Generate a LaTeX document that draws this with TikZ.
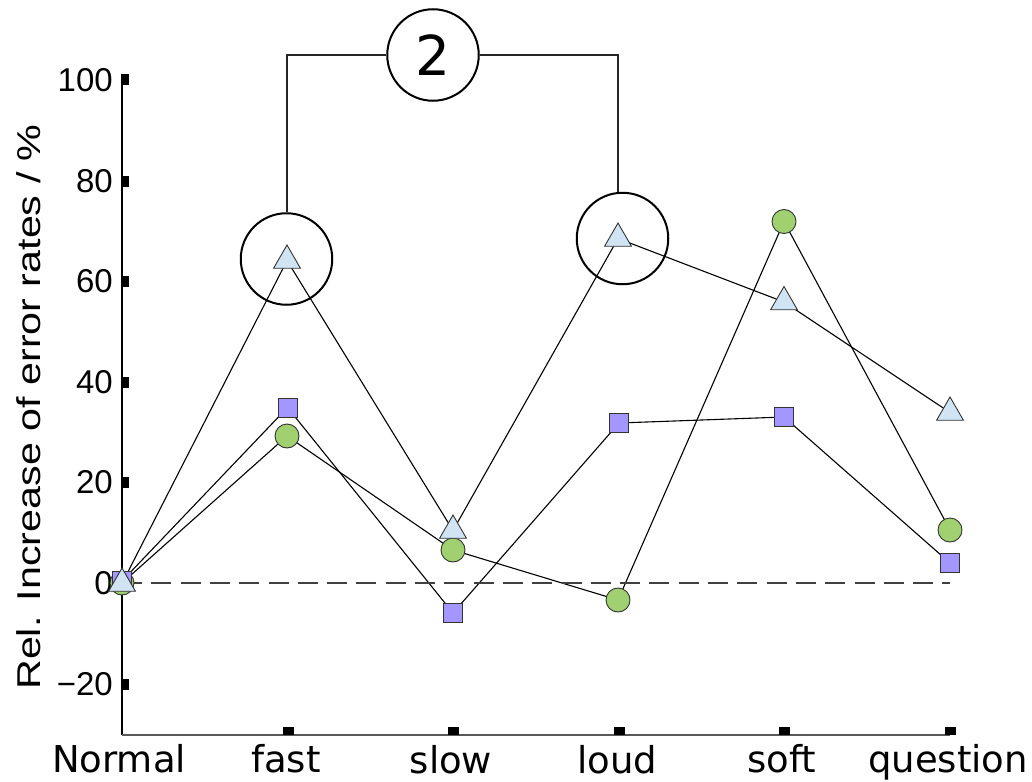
\documentclass[tikz,border=0pt]{standalone}
\usepackage{fontspec}
\usetikzlibrary{shapes.geometric}
\newfontfamily\axisfont{Liberation Sans}
\newfontfamily\catfont{DejaVu Sans}
\definecolor{sqfill}{HTML}{A397FF}
\definecolor{cifill}{HTML}{A0D070}
\definecolor{trfill}{HTML}{D0E4F4}
\pgfdeclarelayer{lines}
\pgfsetlayers{lines,main}
\begin{document}
\begin{tikzpicture}[x=1pt,y=-1pt,
  sq/.style={rectangle, draw=black!80, fill=sqfill, minimum size=19pt, inner sep=0pt, line width=0.9pt},
  ci/.style={circle, draw=black!80, fill=cifill, minimum size=24pt, inner sep=0pt, line width=0.9pt},
  tr/.style={regular polygon, regular polygon sides=3, draw=black!80, fill=trfill, minimum size=31pt, inner sep=0pt, line width=0.9pt},
  series/.style={line width=1.1pt, black},
  ytick/.style={rectangle, fill=black, minimum width=8pt, minimum height=11pt, inner sep=0pt, anchor=west},
  xtick/.style={rectangle, fill=black, minimum width=11pt, minimum height=8pt, inner sep=0pt, anchor=south},
  ylab/.style={anchor=east, inner sep=0pt, font=\axisfont\fontsize{33}{36}\selectfont},
  xlab/.style={anchor=base, inner sep=0pt, font=\catfont\fontsize{37}{40}\selectfont},
  ring/.style={circle, draw=black, line width=2pt, minimum size=91.5pt, inner sep=0pt},
  bracket/.style={draw=black!85, line width=2pt}
]
\useasboundingbox (0,0) rectangle (1032,781);

% axes
\coordinate (origin) at (122,735);
\coordinate (ytop) at (122,80);
\coordinate (xend) at (950,735);
\draw[line width=1.5pt, black] (ytop) -- (origin);
\draw[line width=1.5pt, black!65] (origin) -- (xend);

% zero reference line
\coordinate (zl) at (122,583);
\coordinate (zr) at (950,583);
\draw[line width=1.4pt, black!75, dash pattern=on 20pt off 9.3pt] (zl) -- (zr);

% y ticks and labels
\foreach \v/\py in {100/80, 80/181, 60/281, 40/382, 20/482, 0/583, {−20}/684} {
  \node[ytick] (yt\py) at (121,\py) {};
  \node[ylab] (yl\py) at (113,\py) {\v};
}

% x ticks and category labels
\foreach \px/\name/\by in {288/fast/772, 453/slow/773, 619/loud/773, 784/soft/772, 950/question/772} {
  \node[xtick] (xt\px) at (\px,735) {};
  \node[xlab] (xl\px) at (\px-2,\by) {\name};
}
\node[xlab] (xlN) at (119,772) {Normal};

% axis title
\node[rotate=90, anchor=base, inner sep=0pt] (ytitle) at (40,407)
  {\scalebox{1.25}[1]{\axisfont\fontsize{33}{36}\selectfont Rel. Increase of error rates / \%}};

% data markers: circles
\node[ci] (c1) at (122,583) {};
\node[ci] (c2) at (287,436) {};
\node[ci] (c3) at (453,550) {};
\node[ci] (c4) at (618,600) {};
\node[ci] (c5) at (784,221.5) {};
\node[ci] (c6) at (950,530) {};
% squares
\node[sq] (s1) at (122,581) {};
\node[sq] (s2) at (287.5,407.5) {};
\node[sq] (s3) at (453,613) {};
\node[sq] (s4) at (619,423) {};
\node[sq] (s5) at (784,417) {};
\node[sq] (s6) at (950,563) {};
% triangles
\node[tr] (t1) at (122,583.5) {};
\node[tr] (t2) at (287,260.5) {};
\node[tr] (t3) at (453,530.5) {};
\node[tr] (t4) at (618,238.5) {};
\node[tr] (t5) at (784,302) {};
\node[tr] (t6) at (950,412.5) {};

\begin{pgfonlayer}{lines}
  \draw[series] (c1.center) -- (c2.center) -- (c3.center) -- (c4.center) -- (c5.center) -- (c6.center);
  \draw[series] (s1.center) -- (s2.center) -- (s3.center) -- (s4.center) -- (s5.center) -- (s6.center);
  \draw[series] (t1.center) -- (t2.center) -- (t3.center) -- (t4.center) -- (t5.center) -- (t6.center);
\end{pgfonlayer}

% highlighted points and their shared label
\node[ring] (hfast) at (286.5,259) {};
\node[ring] (hloud) at (622.5,238.5) {};
\node[ring, font=\catfont\fontsize{55}{60}\selectfont] (two) at (433,55) {2};
\draw[bracket] (hfast.north) |- (two.west);
\draw[bracket] (two.east) -| (hloud.95.6);
\end{tikzpicture}
\end{document}
